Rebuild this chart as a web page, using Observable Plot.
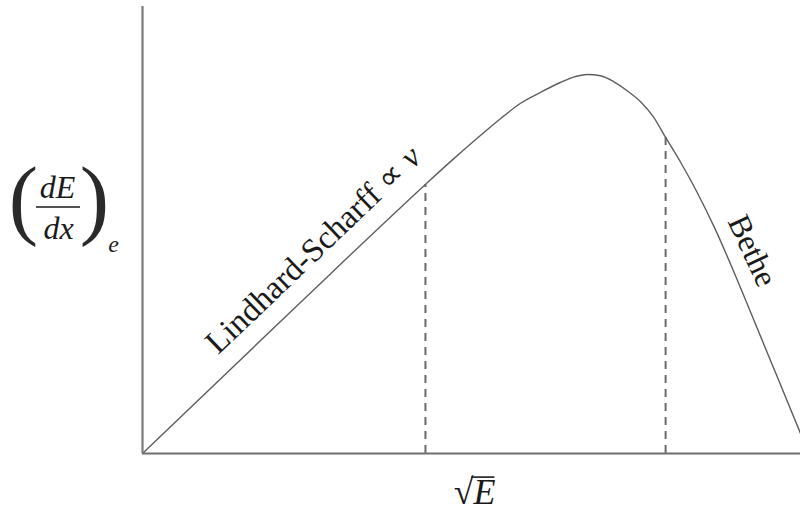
<!DOCTYPE html>
<html><head><meta charset="utf-8">
<script src="https://cdn.jsdelivr.net/npm/d3@7"></script>
<script src="https://cdn.jsdelivr.net/npm/@observablehq/plot@0.6"></script>
<style>body{margin:0;background:#fff}#chart svg{display:block}</style>
</head><body><div id="chart"></div>
<script>
// Electronic stopping power vs sqrt(E) (arbitrary units, 0–100)
const curveX = [0, 24.0, 43.0, 46.8, 50.6, 54.4, 57.4, 60.5, 63.5, 65.5, 67.6, 69.6, 71.6, 73.7, 75.7, 77.7, 79.5, 81.8, 84.3, 87.0, 89.8, 92.7, 96.2, 100];
const curveY = [0, 33.8, 60.2, 65.3, 70.2, 74.9, 78.3, 80.8, 83.0, 84.2, 84.8, 84.5, 83.2, 81.1, 78.7, 75.2, 70.7, 65.1, 58.4, 50.3, 40.9, 30.6, 18.1, 4.5];
const dashX = [43.0, 79.5];
const dashY = [60.2, 70.7];
const labelText = ["Lindhard-Scharff ∝ v", "Bethe"];
const labelX = [29.0, 89.8];
const labelY = [40.9, 40.9];
const xLabel = "√E";

const curve = curveX.map((x, i) => ({x, y: curveY[i]}));
const dashes = dashX.map((x, i) => ({x, y: dashY[i]}));
const labels = labelText.map((t, i) => ({t, x: labelX[i], y: labelY[i]}));

const ink = "#1a1a1a";
const serif = "Liberation Serif, Times New Roman, serif";

const chart = Plot.plot({
  width: 800, height: 512,
  marginLeft: 142, marginRight: 0, marginTop: 6, marginBottom: 59,
  x: {domain: [0, 100], axis: null},
  y: {domain: [0, 100], axis: null},
  style: {fontFamily: serif, background: "#fff", overflow: "visible"},
  marks: [
    Plot.ruleX(dashes, {x: "x", y1: 0, y2: "y", stroke: "#6a6a6a", strokeWidth: 2, strokeDasharray: "8,6"}),
    Plot.line(curve, {x: "x", y: "y", curve: "monotone-x", stroke: "#5e5e5e", strokeWidth: 1.4}),
    Plot.ruleY([0], {stroke: "#6e6e6e", strokeWidth: 2.2}),
    Plot.ruleX([0], {stroke: "#7a7a7a", strokeWidth: 2.2}),
    Plot.text([labels[0]], {x: "x", y: "y", text: "t", rotate: -43.7, dx: -20, dy: -21,
      fontSize: 33, fill: ink, textAnchor: "middle", lineAnchor: "middle", letterSpacing: 1.4}),
    Plot.text([labels[1]], {x: "x", y: "y", text: "t", rotate: 65, dx: 19, dy: -20,
      fontSize: 32, fill: ink, textAnchor: "middle", lineAnchor: "middle", letterSpacing: 2}),
    // y label (dE/dx)_e
    Plot.text(["("], {frameAnchor: "left", text: d => d, dx: -119, dy: -30, fontSize: 88, fill: "#2a2a2a", textAnchor: "middle"}),
    Plot.text([")"], {frameAnchor: "left", text: d => d, dx: -48, dy: -30, fontSize: 88, fill: "#2a2a2a", textAnchor: "middle"}),
    Plot.text(["dE"], {frameAnchor: "left", text: d => d, dx: -85, dy: -42, fontSize: 32, fontStyle: "italic", fill: ink, textAnchor: "middle"}),
    Plot.text(["dx"], {frameAnchor: "left", text: d => d, dx: -84, dy: -1, fontSize: 32, fontStyle: "italic", fill: ink, textAnchor: "middle"}),
    Plot.text(["e"], {frameAnchor: "left", text: d => d, dx: -29, dy: 14, fontSize: 24, fontStyle: "italic", fill: ink, textAnchor: "middle"}),
    // x label
    Plot.text([xLabel], {frameAnchor: "bottom", text: d => d, dx: 3, dy: 50, fontSize: 36, fontStyle: "italic", fill: ink, textAnchor: "middle"})
  ]
});

document.getElementById("chart").append(chart);

const svg = d3.select(chart);
// italic v in the Lindhard-Scharff label
svg.selectAll("text").filter(function () { return this.textContent === labelText[0]; }).each(function () {
  const t = d3.select(this);
  t.text(null);
  t.append("tspan").text(labelText[0].slice(0, -1));
  t.append("tspan").attr("font-style", "italic").text(labelText[0].slice(-1));
});
// fraction bar (label decoration)
svg.append("line").attr("x1", 36).attr("x2", 80).attr("y1", 207).attr("y2", 207)
  .attr("stroke", ink).attr("stroke-width", 1.6);
// radical vinculum over E, placed from the rendered label's box
const xl = svg.selectAll("text").filter(function () { return this.textContent === xLabel; }).node();
if (xl) {
  const b = xl.getBBox();
  const ctm = xl.getCTM();
  const x0 = ctm.e + b.x + b.width * 0.42, x1 = ctm.e + b.x + b.width - 1;
  const yTop = ctm.f + b.y + b.height * 0.14;
  svg.append("line").attr("x1", x0).attr("x2", x1).attr("y1", yTop).attr("y2", yTop)
    .attr("stroke", ink).attr("stroke-width", 1.6);
}
</script>
</body></html>
